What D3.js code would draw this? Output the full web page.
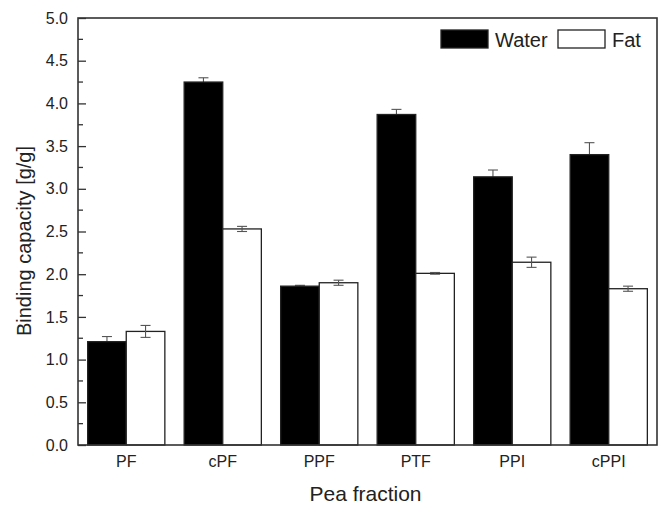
<!DOCTYPE html>
<html>
<head>
<meta charset="utf-8">
<script src="https://cdn.jsdelivr.net/npm/d3@7"></script>
<style>
  body { margin: 0; background: #fff; }
  text { font-family: Arial, "Liberation Sans", sans-serif; fill: #222; }
</style>
</head>
<body>
<svg id="chart" width="660" height="506"></svg>
<script>
var fractions = ["PF", "cPF", "PPF", "PTF", "PPI", "cPPI"]
var series = ["Water", "Fat"]
var water = [1.21, 4.25, 1.86, 3.87, 3.14, 3.40]
var waterErr = [0.06, 0.05, 0.01, 0.06, 0.08, 0.14]
var fat = [1.33, 2.53, 1.90, 2.01, 2.14, 1.83]
var fatErr = [0.07, 0.03, 0.03, 0.01, 0.06, 0.03]
var yTicks = [0, 0.5, 1, 1.5, 2, 2.5, 3, 3.5, 4, 4.5, 5]

var margin = {left: 78, right: 3, top: 18, bottom: 61}
var width = 660 - margin.left - margin.right,
    height = 506 - margin.top - margin.bottom

var svg = d3.select("#chart")
var g = svg.append("g").attr("transform", `translate(${margin.left},${margin.top})`)

var x = d3.scaleBand().domain(fractions).range([0, width]).paddingInner(0.2).paddingOuter(0.1)
var xs = d3.scaleBand().domain(series).range([0, x.bandwidth()])
var y = d3.scaleLinear().domain([0, 5]).range([height, 0])
var fill = d3.scaleOrdinal().domain(series).range(["#000", "#fff"])

var rows = fractions.map((f, i) => ({
  f: f,
  vals: [
    {s: "Water", v: water[i], e: waterErr[i]},
    {s: "Fat", v: fat[i], e: fatErr[i]}
  ]
}))

var groups = g.selectAll(".grp").data(rows).enter().append("g")
  .attr("transform", d => `translate(${x(d.f)},0)`)

// error bars: water ones go under the bars (lower half hidden by the black fill)
function errorBars(sel) {
  var eb = sel.append("g").attr("stroke", "#555").attr("stroke-width", 1.1)
  var cx = d => xs(d.s) + xs.bandwidth() / 2
  eb.append("line")
    .attr("x1", cx).attr("x2", cx)
    .attr("y1", d => y(d.v - d.e)).attr("y2", d => y(d.v + d.e))
  eb.selectAll(".cap").data(d => [d.v - d.e, d.v + d.e].map(v => ({s: d.s, v: v})))
    .enter().append("line")
    .attr("x1", d => cx(d) - 5).attr("x2", d => cx(d) + 5)
    .attr("y1", d => y(d.v)).attr("y2", d => y(d.v))
}

groups.selectAll(".errW").data(d => d.vals.filter(v => v.s == "Water")).enter()
  .call(errorBars)

groups.selectAll("rect").data(d => d.vals).enter().append("rect")
  .attr("x", d => xs(d.s))
  .attr("y", d => y(d.v))
  .attr("width", xs.bandwidth())
  .attr("height", d => height - y(d.v))
  .attr("fill", d => fill(d.s))
  .attr("stroke", "#222")
  .attr("stroke-width", 1.3)

groups.selectAll(".errF").data(d => d.vals.filter(v => v.s == "Fat")).enter()
  .call(errorBars)

// y axis with inward ticks
var yAxis = g.append("g").call(d3.axisLeft(y).tickValues(yTicks).tickFormat(d3.format(".1f")).tickSize(-8).tickPadding(10))
yAxis.select(".domain").remove()
yAxis.selectAll("line").attr("stroke", "#333").attr("stroke-width", 1.3)
yAxis.selectAll("text").style("font-size", "16px").attr("fill", "#222")

var minor = d3.range(0.25, 5, 0.5)
g.append("g").selectAll("line").data(minor).enter().append("line")
  .attr("x1", 0).attr("x2", 5)
  .attr("y1", d => y(d)).attr("y2", d => y(d))
  .attr("stroke", "#333").attr("stroke-width", 1.3)

// x axis labels
var xAxis = g.append("g").attr("transform", `translate(0,${height})`)
  .call(d3.axisBottom(x).tickSize(0).tickPadding(11))
xAxis.select(".domain").remove()
xAxis.selectAll("text").style("font-size", "16px").attr("fill", "#222")

// frame
g.append("rect").attr("width", width).attr("height", height)
  .attr("fill", "none").attr("stroke", "#333").attr("stroke-width", 1.6)

// titles
svg.append("text").attr("x", margin.left + width / 2 - 2).attr("y", 501)
  .attr("text-anchor", "middle").style("font-size", "21px").text("Pea fraction")
svg.append("text").attr("transform", `translate(31,241) rotate(-90)`)
  .attr("text-anchor", "middle").style("font-size", "20px").text("Binding capacity [g/g]")

// legend
var legend = svg.append("g").attr("transform", "translate(441,30)")
var lx = [0, 117]
series.forEach((s, i) => {
  legend.append("rect").attr("x", lx[i]).attr("y", 0).attr("width", 47).attr("height", 18)
    .attr("fill", fill(s)).attr("stroke", "#222").attr("stroke-width", 1.3)
  legend.append("text").attr("x", lx[i] + 54).attr("y", 17).style("font-size", "20px").text(s)
})
</script>
</body>
</html>
